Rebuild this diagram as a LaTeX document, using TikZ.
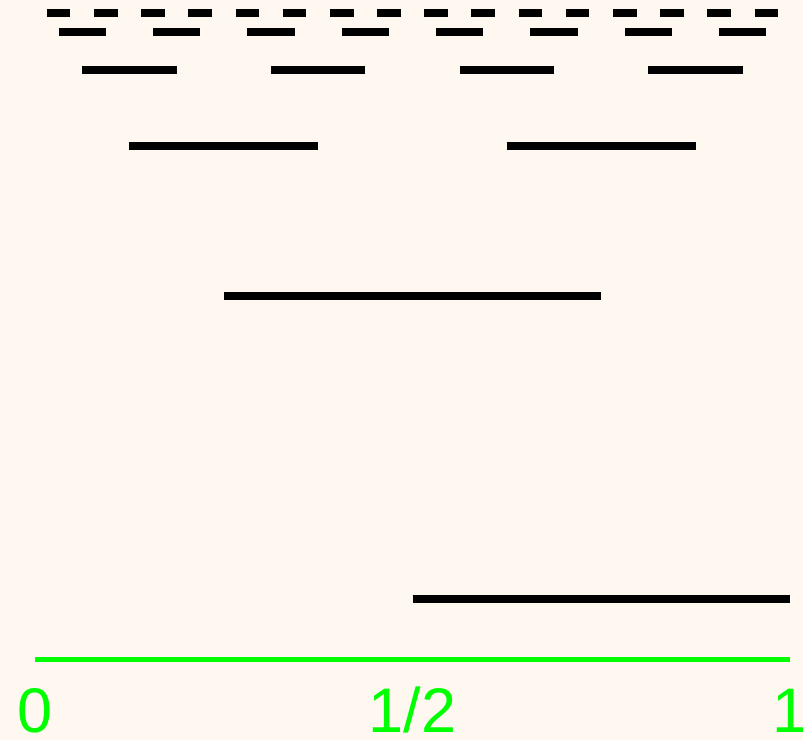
\documentclass[tikz,border=0pt]{standalone}
\usepackage{fontspec}
\setmainfont{Liberation Sans}
\usepackage{tikz}
\definecolor{paper}{RGB}{255,248,240}
\definecolor{axisgreen}{RGB}{0,255,0}
\definecolor{ink}{RGB}{0,0,0}
\tikzset{
  seg/.style={draw=ink,line width=7.5pt,line cap=butt},
  axisline/.style={draw=axisgreen,line width=5pt},
  ticklabel/.style={text=axisgreen,anchor=base,inner sep=0pt,
    font=\fontsize{63}{63}\selectfont}
}

\begin{document}
\begin{tikzpicture}[x=755pt,y=1pt]
    % page, margins included
    \fill[paper] (-35pt,-81pt) rectangle (768pt,659pt);
    \useasboundingbox (-35pt,-81pt) rectangle (768pt,659pt);
    % unit interval
    \draw[axisline] (0,0) -- (1,0);
    \node[ticklabel] (zero) at (0,-73) {0};
    \node[ticklabel] (half) at (0.5,-73) {1/2};
    \node[ticklabel] (one)  at (1,-73) {1};
    % first level
    \draw[seg] (0.5,60) -- (1,60);
    % finer levels
    \foreach \n/\h in {2/363,3/513,4/589,5/627,6/646}{
      \pgfmathtruncatemacro\m{2^(\n-2)-1}
      \foreach \k in {0,...,\m}
        \draw[seg] ({(4*\k+1)/2^\n},\h) -- ++({2/2^\n},0);
    }
  \end{tikzpicture}
\end{document}
